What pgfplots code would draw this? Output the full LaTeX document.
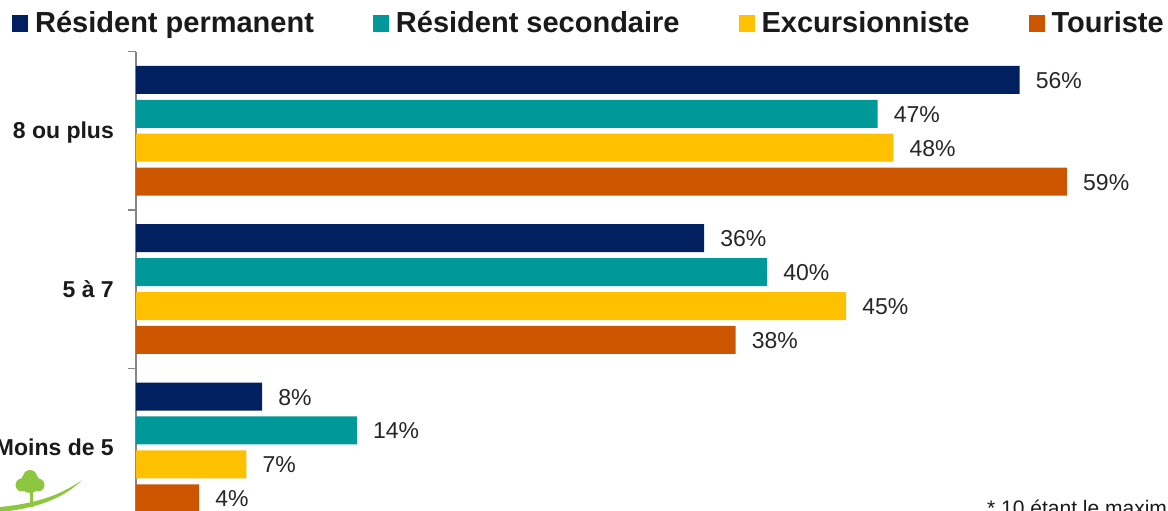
\documentclass[border=0pt]{standalone}
\usepackage{fontspec}
\setmainfont{Liberation Sans}
\usepackage{pgfplots}
\pgfplotsset{compat=1.18}

\definecolor{rp}{HTML}{002060}
\definecolor{rs}{HTML}{009999}
\definecolor{ex}{HTML}{FFC000}
\definecolor{to}{HTML}{CC5500}
\definecolor{logo}{HTML}{8DC63F}
\definecolor{axe}{HTML}{868686}
\definecolor{txt}{HTML}{1A1A1A}
\definecolor{vtxt}{HTML}{262626}

\pgfplotsset{carre/.style={draw=none,
  legend image code/.code={\fill[##1] (0pt,-8.5pt) rectangle (16pt,8.5pt);}}}

\begin{document}
\begin{tikzpicture}
\path[use as bounding box] (0,0) rectangle (1168pt,511pt);
\clip (0,0) rectangle (1168pt,511pt);

% petit logo en bas a gauche
\fill[logo] (30pt,28pt) circle (10pt);
\fill[logo] (22pt,26pt) circle (6.5pt);
\fill[logo] (38pt,26pt) circle (6.5pt);
\fill[logo] (30pt,34pt) circle (7pt);
\fill[logo] (29.5pt,4pt) rectangle (32.5pt,20pt);
\fill[logo] (0pt,-1pt) .. controls (40pt,3pt) and (65pt,14pt) .. (82pt,31pt)
  .. controls (62pt,17pt) and (40pt,8pt) .. (0pt,4pt) -- cycle;

\begin{axis}[
  at={(136pt,-15.6pt)}, anchor=south west,
  scale only axis, width=1032pt, height=475pt,
  xbar, bar width=28pt,
  xmin=0, xmax=65.4, ymin=-0.5, ymax=2.5,
  axis x line=none, axis y line*=left,
  y axis line style={axe, line width=1.5pt},
  ytick={0,1,2},
  yticklabels={Moins de 5, 5 à 7, 8 ou plus},
  minor ytick={-0.5,0.5,1.5,2.5},
  major tick length=0pt, minor tick length=8pt, tick align=outside,
  tick style={axe, line width=1.5pt},
  yticklabel style={font=\fontsize{23}{23}\selectfont\bfseries, text=txt,
    inner sep=0pt, anchor=base east, xshift=-22pt, yshift=-8.2pt},
  point meta=x,
  nodes near coords={\pgfmathprintnumber{\pgfplotspointmeta}\%},
  /pgf/number format/assume math mode=true,
  every node near coord/.append style={font=\fontsize{23}{23}\selectfont,
    text=vtxt, inner sep=0pt, anchor=base west, xshift=16pt, yshift=-8.5pt},
  legend columns=4,
  legend cell align=left,
  legend style={at={(axis description cs:-0.1202,1.0602)}, anchor=west,
    draw=none, fill=none, inner sep=0pt, nodes={inner sep=0pt},
    font=\fontsize{29}{29}\selectfont\bfseries, text=txt,
    /tikz/every odd column/.append style={column sep=7pt},
    /tikz/every even column/.append style={column sep=59pt}},
]
\addplot[carre, fill=rp, bar shift=50.85pt] coordinates {(56,2) (36,1) (8,0)};
\addplot[carre, fill=rs, bar shift=16.95pt] coordinates {(47,2) (40,1) (14,0)};
\addplot[carre, fill=ex, bar shift=-16.95pt] coordinates {(48,2) (45,1) (7,0)};
\addplot[carre, fill=to, bar shift=-50.85pt] coordinates {(59,2) (38,1) (4,0)};
\legend{Résident permanent, Résident secondaire, Excursionniste, Touriste}
\end{axis}

\node[anchor=base west, inner sep=0pt, text=txt, font=\fontsize{21}{21}\selectfont]
  at (987pt,-5pt) {* 10 étant le maximum};
\end{tikzpicture}
\end{document}
